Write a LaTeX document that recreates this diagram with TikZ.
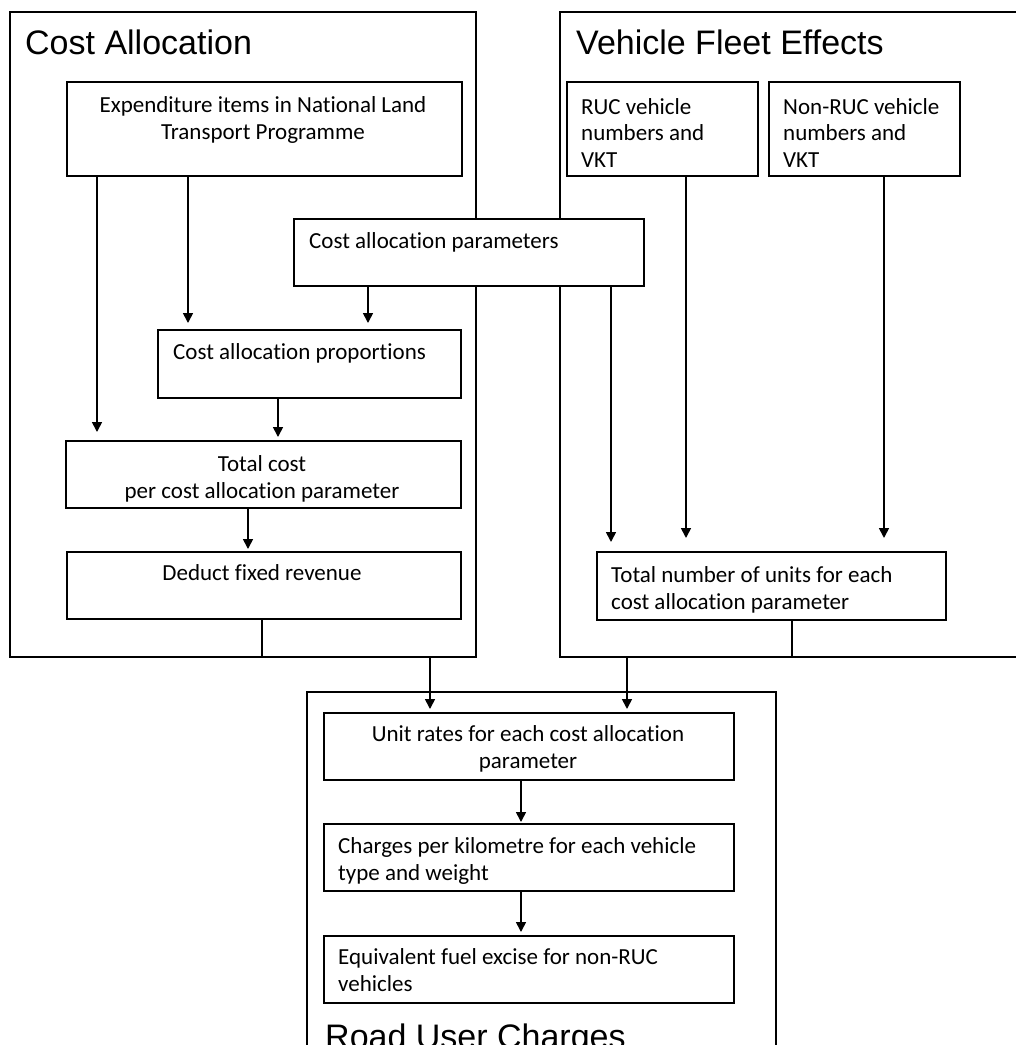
\documentclass[tikz,border=0pt]{standalone}
\usepackage{fontspec}
\setmainfont{Carlito}[Ligatures=NoCommon]
\newfontfamily\headfont{Liberation Sans}
\usetikzlibrary{arrows.meta,calc}
\tikzset{
  outerbox/.style={draw=black, line width=1.3pt},
  box/.style={draw=black, fill=white, line width=1.5pt, inner sep=0pt, anchor=north west},
  txt/.style={font=\fontsize{23}{26.5}\selectfont, inner sep=0pt},
  head/.style={font=\headfont\fontsize{34}{40}\selectfont, inner sep=0pt, anchor=base west},
  arr/.style={line width=1.7pt, -{Triangle[width=10pt,length=10pt]}},
  conn/.style={line width=1.7pt},
}
\begin{document}
\begin{tikzpicture}[x=1pt,y=-1pt]
\fill[white] (0,0) rectangle (1016,1045);
\clip (0,0) rectangle (1016,1045);
\useasboundingbox (0,0) rectangle (1016,1045);

% outer group boxes
\draw[outerbox] (10,12) rectangle (476,657);
\draw[outerbox] (560,12) rectangle (1030,657);
\draw[outerbox] (307,692) rectangle (776,1070);

\node[head] (hca) at (25,54) {Cost Allocation};
\node[head] (hvf) at (576,54) {Vehicle Fleet Effects};
\node[head] (hru) at (325,1048) {Road User Charges};

% boxes
\node[box, minimum width=395pt, minimum height=94pt] (exp) at (66,81) {};
\node[box, minimum width=191pt, minimum height=94pt] (rucv) at (566,81) {};
\node[box, minimum width=191pt, minimum height=94pt] (nruc) at (768,81) {};
\node[box, minimum width=350pt, minimum height=67pt] (par) at (293,218) {};
\node[box, minimum width=303pt, minimum height=68pt] (prop) at (157,329) {};
\node[box, minimum width=395pt, minimum height=67pt] (tot) at (65,440) {};
\node[box, minimum width=394pt, minimum height=67pt] (ded) at (66,551) {};
\node[box, minimum width=349pt, minimum height=68pt] (tnu) at (596,551) {};
\node[box, minimum width=410pt, minimum height=67pt] (unit) at (323,712) {};
\node[box, minimum width=410pt, minimum height=67pt] (chg) at (323,823) {};
\node[box, minimum width=410pt, minimum height=67pt] (eqv) at (323,935) {};

% texts (multi-line nodes: base = last line)
\node[txt, anchor=base, align=center] (texp) at (263,139) {Expenditure items in National Land\\Transport Programme};
\node[txt, anchor=base west, align=left] (trucv) at (581,167) {RUC vehicle\\numbers and\\VKT};
\node[txt, anchor=base west, align=left] (tnruc) at (783,167) {Non-RUC vehicle\\numbers and\\VKT};
\node[txt, anchor=base west] (tpar) at (309,248) {Cost allocation parameters};
\node[txt, anchor=base west] (tprop) at (173,359) {Cost allocation proportions};
\node[txt, anchor=base, align=center] (ttot) at (262,498) {Total cost\\per cost allocation parameter};
\node[txt, anchor=base] (tded) at (262,580) {Deduct fixed revenue};
\node[txt, anchor=base west, align=left] (ttnu) at (611,609) {Total number of units for each\\cost allocation parameter};
\node[txt, anchor=base, align=center] (tunit) at (528,768) {Unit rates for each cost allocation\\parameter};
\node[txt, anchor=base west, align=left] (tchg) at (338,880) {Charges per kilometre for each vehicle\\type and weight};
\node[txt, anchor=base west, align=left] (teqv) at (338,991) {Equivalent fuel excise for non-RUC\\vehicles};

% x positions
\coordinate (x97) at (97,0);
\coordinate (x188) at (188,0);
\coordinate (x368) at (368,0);
\coordinate (x278) at (278,0);
\coordinate (x248) at (248,0);
\coordinate (x611) at (611,0);
\coordinate (x686) at (686,0);
\coordinate (x884) at (884,0);
\coordinate (x262) at (262,0);
\coordinate (x430) at (430,0);
\coordinate (x792) at (792,0);
\coordinate (x627) at (627,0);
\coordinate (x521) at (521,0);
\coordinate (j1) at (262,657);
\coordinate (j2) at (430,657);
\coordinate (j3) at (792,657);
\coordinate (j4) at (627,657);

% connectors
\draw[arr, shorten >=8pt] (exp.south -| x97) -- (tot.north -| x97);
\draw[arr, shorten >=6pt] (exp.south -| x188) -- (prop.north -| x188);
\draw[arr, shorten >=6pt] (par.south -| x368) -- (prop.north -| x368);
\draw[arr, shorten >=3pt] (prop.south -| x278) -- (tot.north -| x278);
\draw[arr, shorten >=2pt] (tot.south -| x248) -- (ded.north -| x248);
\draw[arr, shorten >=9pt] (par.south -| x611) -- (tnu.north -| x611);
\draw[arr, shorten >=13pt] (rucv.south -| x686) -- (tnu.north -| x686);
\draw[arr, shorten >=13pt] (nruc.south -| x884) -- (tnu.north -| x884);
\draw[conn] (ded.south -| x262) -- (j1) -- (j2);
\draw[arr, shorten >=3pt] (j2) -- (unit.north -| x430);
\draw[conn] (tnu.south -| x792) -- (j3) -- (j4);
\draw[arr, shorten >=3pt] (j4) -- (unit.north -| x627);
\draw[arr, shorten >=1pt] (unit.south -| x521) -- (chg.north -| x521);
\draw[arr, shorten >=3pt] (chg.south -| x521) -- (eqv.north -| x521);
\end{tikzpicture}
\end{document}
